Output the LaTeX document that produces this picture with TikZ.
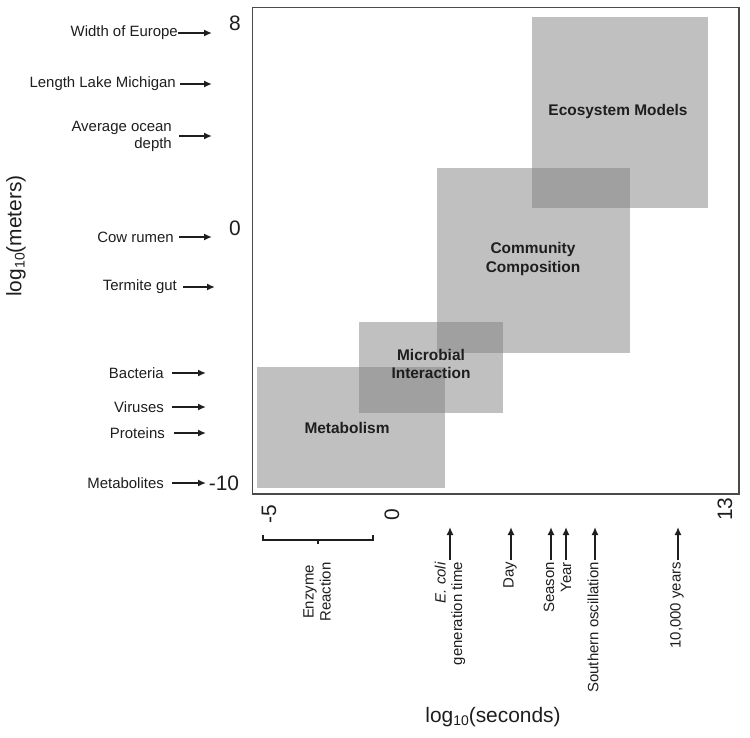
\documentclass[tikz,border=0pt]{standalone}
\usepackage{fontspec}
\setmainfont{Liberation Sans}
\usetikzlibrary{arrows.meta}
\definecolor{ink}{HTML}{1E1E1E}
\definecolor{framec}{HTML}{4A4A4A}
\begin{document}
\begin{tikzpicture}[x=1bp,y=-1bp,
  lbl/.style={font=\fontsize{15}{17}\selectfont, text=ink, inner xsep=3bp, inner ysep=0pt},
  rlbl/.style={font=\fontsize{15}{16.5}\selectfont, text=ink, inner xsep=2bp, inner ysep=0pt, rotate=90, anchor=east},
  tick/.style={font=\fontsize{21}{21}\selectfont, text=ink, inner sep=0pt},
  axlbl/.style={font=\fontsize{21}{21}\selectfont, text=ink, inner sep=0pt},
  box/.style={fill=black!50, fill opacity=0.49, draw=none, inner sep=0pt},
  boxlbl/.style={font=\bfseries\fontsize{15.5}{19}\selectfont, text=ink, align=center, inner sep=0pt},
  arr/.style={draw=ink, line width=1.8bp, -{Latex[length=8bp,width=7bp]}}
]
\useasboundingbox (0,0) rectangle (750,738);
\fill[white] (0,0) rectangle (750,738);

% plot frame
\draw[framec, line width=1.5bp] (252.5,7.5) rectangle (739,494);

% boxes
\node[box, minimum width=188bp, minimum height=121bp] (met) at (351,427.5) {};
\node[box, minimum width=144bp, minimum height=91bp] (mic) at (431,367.5) {};
\node[box, minimum width=193bp, minimum height=185bp] (com) at (533.5,260.5) {};
\node[box, minimum width=176bp, minimum height=191bp] (eco) at (620,112.5) {};

\node[boxlbl] (metl) at (347,428) {Metabolism};
\node[boxlbl] (micl) at (431,364) {Microbial\\Interaction};
\node[boxlbl] (coml) at (533,259) {Community\\Composition};
\node[boxlbl] (ecol) at (618,112) {Ecosystem Models};

% y tick labels
\node[tick] (y8) at (235,23) {8};
\node[tick] (y0) at (235,228) {0};
\node[tick] (ym10) at (224,483) {-10};

% y axis title
\node[axlbl, rotate=90] (ytitle) at (16,236) {log\raisebox{-0.28ex}{\fontsize{14}{14}\selectfont 10}(meters)};

% left labels and arrows
\coordinate (tEur) at (212,33);
\coordinate (tLak) at (212,84);
\coordinate (tOce) at (212,136);
\coordinate (tCow) at (212,237);
\coordinate (tTer) at (215,287);
\coordinate (tBac) at (206,373);
\coordinate (tVir) at (206,407);
\coordinate (tPro) at (206,433);
\coordinate (tMet) at (206,483);

\node[lbl, anchor=east, inner xsep=0pt] (lEur) at (178,33) {Width of Europe};
\node[lbl, anchor=east, inner xsep=4bp] (lLak) at (180,84) {Length Lake Michigan};
\node[lbl, anchor=east, align=right, inner xsep=7bp] (lOce) at (179,136) {Average ocean\\depth};
\node[lbl, anchor=east, inner xsep=5bp] (lCow) at (179,237) {Cow rumen};
\node[lbl, anchor=east, inner xsep=6bp] (lTer) at (183,287) {Termite gut};
\node[lbl, anchor=east, inner xsep=8bp] (lBac) at (172,373) {Bacteria};
\node[lbl, anchor=east, inner xsep=8bp] (lVir) at (172,407) {Viruses};
\node[lbl, anchor=east, inner xsep=9bp] (lPro) at (174,433) {Proteins};
\node[lbl, anchor=east, inner xsep=8bp] (lMetb) at (172,483) {Metabolites};

\draw[arr] (lEur.east) -- (tEur);
\draw[arr] (lLak.east) -- (tLak);
\draw[arr] (lOce.east) -- (tOce);
\draw[arr] (lCow.east) -- (tCow);
\draw[arr] (lTer.east) -- (tTer);
\draw[arr] (lBac.east) -- (tBac);
\draw[arr] (lVir.east) -- (tVir);
\draw[arr] (lPro.east) -- (tPro);
\draw[arr] (lMetb.east) -- (tMet);

% x tick labels
\node[tick, rotate=90] (xm5) at (269,514) {-5};
\node[tick, rotate=90] (x0) at (392,515) {0};
\node[tick, rotate=90] (x13) at (725,509) {13};

% enzyme bracket
\coordinate (bl) at (263,535);
\coordinate (br) at (373,535);
\coordinate (bm) at (318,544);
\draw[ink, line width=1.6bp] (bl) -- (263,540) -- (373,540) -- (br);
\draw[ink, line width=1.6bp] (318,540) -- (bm);
\node[font=\fontsize{15}{17}\selectfont, text=ink, rotate=90, align=center, inner sep=0pt] (enz) at (317,592) {Enzyme\\Reaction};

% bottom labels and arrows
\coordinate (tEco) at (450,527);
\coordinate (tDay) at (511,527);
\coordinate (tSea) at (551,527);
\coordinate (tYea) at (566,527);
\coordinate (tSou) at (595,527);
\coordinate (tTen) at (678,527);

\node[rlbl, align=right] (lEco) at (450,560) {\textit{E. coli}\\generation time};
\node[rlbl] (lDay) at (510,560) {Day};
\node[rlbl] (lSea) at (549,560) {Season};
\node[rlbl] (lYea) at (566,560) {Year};
\node[rlbl] (lSou) at (593,560) {Southern oscillation};
\node[rlbl] (lTen) at (677,560) {10,000 years};

\draw[arr] (lEco.east) -- (tEco);
\draw[arr] (lDay.east -| tDay) -- (tDay);
\draw[arr] (lSea.east -| tSea) -- (tSea);
\draw[arr] (lYea.east) -- (tYea);
\draw[arr] (lSou.east -| tSou) -- (tSou);
\draw[arr] (lTen.east -| tTen) -- (tTen);

% x axis title
\node[axlbl] (xtitle) at (493,717) {log\raisebox{-0.28ex}{\fontsize{14}{14}\selectfont 10}(seconds)};
\end{tikzpicture}
\end{document}
